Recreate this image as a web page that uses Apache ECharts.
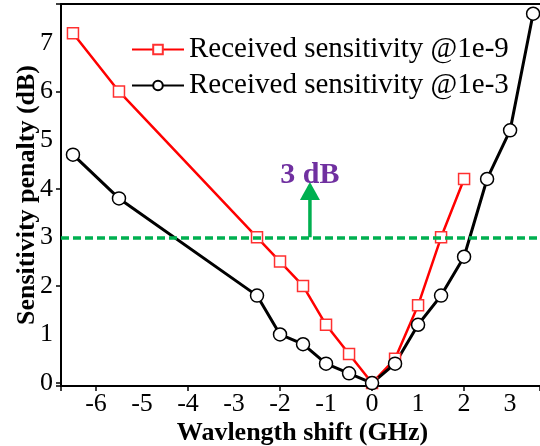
<!DOCTYPE html>
<html><head><meta charset="utf-8">
<script src="https://cdn.jsdelivr.net/npm/echarts@6/dist/echarts.min.js"></script>
<style>html,body{margin:0;padding:0;background:#fff}#c{width:540px;height:446px}</style>
</head><body><div id="c"></div>
<script>
const xShift = [-6.5,-5.5,-2.5,-2,-1.5,-1,-0.5,0,0.5,1,1.5,2,2.5,3,3.5];
const pen1e9 = [7.2,6.0,3.0,2.5,2.0,1.2,0.6,0,0.5,1.6,3.0,4.2];
const pen1e3 = [4.7,3.8,1.8,1.0,0.8,0.4,0.2,0,0.4,1.2,1.8,2.6,4.2,5.2,7.6];
const xLabels = [-6,-5,-4,-3,-2,-1,0,1,2,3];
const yLabels = [0,1,2,3,4,5,6,7];
const threshold = 3;
const arrowX = -1.35;
const arrowTop = 3.95;
const names = ['Received sensitivity @1e-9','Received sensitivity @1e-3'];

const FONT = '"Liberation Serif","Times New Roman",serif';
const XMIN=-6.76, XMAX=3.65, YMIN=-0.06, YMAX=7.8;
const lineOn = {show:true, onZero:false, lineStyle:{color:'#000', width:2}};
const xMain = {type:'value', position:'bottom', min:XMIN, max:XMAX, splitLine:{show:false}, axisLine:lineOn,
  axisTick:{show:true, inside:false, length:5, lineStyle:{color:'#000', width:1.5}},
  axisLabel:{show:true, customValues:xLabels, fontFamily:FONT, fontSize:26, color:'#000', margin:5},
  name:'Wavlength shift (GHz)', nameLocation:'middle', nameGap:34, nameMoveOverlap:false,
  nameTextStyle:{fontFamily:FONT, fontSize:26, fontWeight:'bold', color:'#000', padding:[0,0,0,4]}};
const xTop = {type:'value', position:'top', min:XMIN, max:XMAX, splitLine:{show:false}, axisLine:lineOn,
  axisTick:{show:false}, axisLabel:{show:false}};
const yMain = {type:'value', position:'left', min:YMIN, max:YMAX, splitLine:{show:false}, axisLine:lineOn,
  axisTick:{show:true, inside:false, length:5, lineStyle:{color:'#000', width:1.5}},
  axisLabel:{show:true, customValues:yLabels, fontFamily:FONT, fontSize:26, color:'#000', margin:8},
  name:'Sensitivity penalty (dB)', nameLocation:'middle', nameGap:21, nameMoveOverlap:false,
  nameTextStyle:{fontFamily:FONT, fontSize:26, fontWeight:'bold', color:'#000'}};
const chart = echarts.init(document.getElementById('c'));
chart.setOption({
  animation:false,
  grid:{left:61, right:0, top:4, bottom:60, outerBoundsMode:'none', containLabel:false},
  legend:{data:names, orient:'vertical', left:126, top:30, itemGap:7, itemWidth:52, itemHeight:12,
    textStyle:{fontFamily:FONT, fontSize:29, lineHeight:29, color:'#000'}},
  xAxis:[xMain, xTop],
  yAxis:[yMain],
  series:[
    {type:'line', name:'thr', data:[], silent:true,
      markLine:{silent:true, symbol:['none','none'], label:{show:false},
        lineStyle:{color:'#00B050', width:3.5, type:[8,4]}, data:[{yAxis:threshold}]}},
    {type:'line', name:'arrow', data:[{value:[arrowX,threshold], symbol:'none'},
        {value:[arrowX,arrowTop], symbol:'triangle', symbolSize:[20,18],
         label:{show:true, position:'top', distance:-8, formatter:'3 dB', fontFamily:FONT, fontSize:30, lineHeight:30, fontWeight:'bold', color:'#7030A0'}}],
      lineStyle:{color:'#00B050', width:3.5}, itemStyle:{color:'#00B050'}, silent:true},
    {type:'line', name:names[0], data:pen1e9.map((v,i)=>[xShift[i],v]), symbol:'rect', symbolSize:11,
      lineStyle:{color:'#FF0000', width:2.5}, itemStyle:{color:'#fff', borderColor:'#FF3030', borderWidth:1.5}},
    {type:'line', name:names[1], data:pen1e3.map((v,i)=>[xShift[i],v]), symbol:'circle', symbolSize:13,
      lineStyle:{color:'#000', width:3}, itemStyle:{color:'#fff', borderColor:'#000', borderWidth:1.5}}
  ]
});
</script></body></html>
